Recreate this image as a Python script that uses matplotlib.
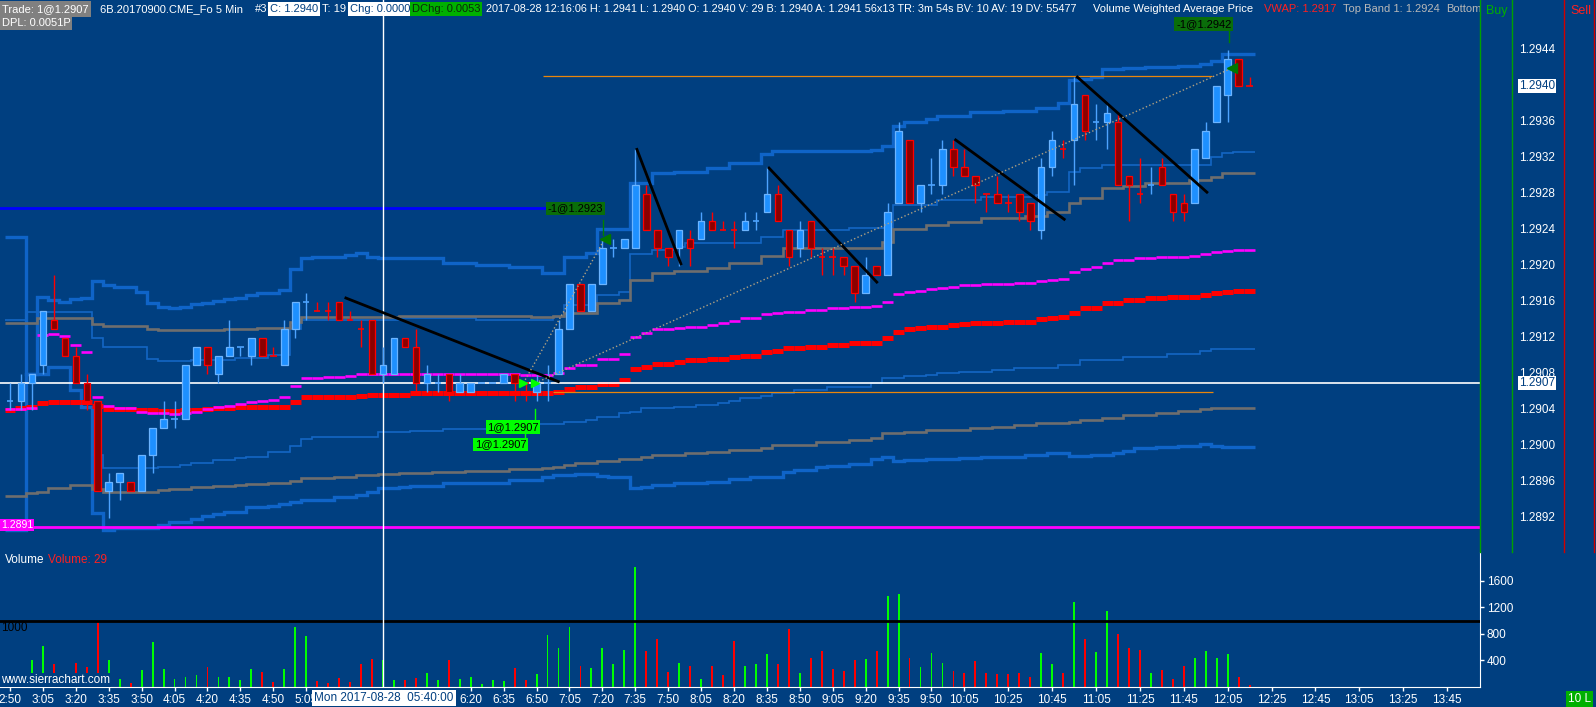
import matplotlib.pyplot as plt
import numpy as np
from matplotlib.lines import Line2D
from matplotlib.patches import Rectangle

plt.rcParams['font.family'] = ['Liberation Sans', 'DejaVu Sans']

# 6B 5 minute bars, bar 0 = 2:50 ... bar 113 = 12:15
opens = [1.2905, 1.2905, 1.2907, 1.2909, 1.2914, 1.2912, 1.2910, 1.2907, 1.2905, 1.2895,
         1.2896, 1.2896, 1.2895, 1.2899, 1.2902, 1.2903, 1.2903, 1.2909, 1.2911, 1.2908,
         1.2910, 1.2911, 1.2910, 1.2912, 1.2910, 1.2909, 1.2913, 1.2916, 1.2915, 1.2915,
         1.2916, 1.2914, 1.2913, 1.2914, 1.2908, 1.2908, 1.2912, 1.2911, 1.2907, 1.2907,
         1.2908, 1.2906, 1.2906, 1.2907, 1.2907, 1.2907, 1.2908, 1.2907, 1.2906, 1.2907,
         1.2908, 1.2913, 1.2918, 1.2915, 1.2918, 1.2922, 1.2922, 1.2922, 1.2928, 1.2924,
         1.2922, 1.2922, 1.2923, 1.2923, 1.2925, 1.2924, 1.2924, 1.2924, 1.2925, 1.2926,
         1.2928, 1.2924, 1.2922, 1.2925, 1.2921, 1.2921, 1.2921, 1.2920, 1.2917, 1.2920,
         1.2919, 1.2927, 1.2934, 1.2927, 1.2929, 1.2929, 1.2933, 1.2931, 1.2930, 1.2928,
         1.2928, 1.2927, 1.2928, 1.2927, 1.2924, 1.2931, 1.2933, 1.2934, 1.2939, 1.2936,
         1.2936, 1.2936, 1.2930, 1.2928, 1.2929, 1.2931, 1.2928, 1.2927, 1.2927, 1.2932,
         1.2936, 1.2939, 1.2943, 1.2940]
highs = [1.2907, 1.2908, 1.2908, 1.2915, 1.2919, 1.2912, 1.2911, 1.2908, 1.2905, 1.2897,
         1.2897, 1.2896, 1.2899, 1.2902, 1.2905, 1.2905, 1.2909, 1.2911, 1.2911, 1.2910,
         1.2914, 1.2911, 1.2912, 1.2912, 1.2911, 1.2914, 1.2916, 1.2917, 1.2916, 1.2916,
         1.2916, 1.2915, 1.2914, 1.2914, 1.2911, 1.2912, 1.2912, 1.2913, 1.2909, 1.2908,
         1.2908, 1.2908, 1.2907, 1.2907, 1.2907, 1.2908, 1.2908, 1.2907, 1.2908, 1.2909,
         1.2914, 1.2918, 1.2918, 1.2918, 1.2923, 1.2923, 1.2923, 1.2933, 1.2929, 1.2924,
         1.2922, 1.2924, 1.2924, 1.2926, 1.2926, 1.2925, 1.2925, 1.2926, 1.2926, 1.2931,
         1.2929, 1.2924, 1.2925, 1.2925, 1.2922, 1.2922, 1.2921, 1.2920, 1.2921, 1.2920,
         1.2927, 1.2936, 1.2934, 1.2929, 1.2932, 1.2934, 1.2934, 1.2933, 1.2930, 1.2928,
         1.2930, 1.2928, 1.2928, 1.2927, 1.2932, 1.2935, 1.2934, 1.2941, 1.2939, 1.2938,
         1.2938, 1.2937, 1.2930, 1.2932, 1.2931, 1.2932, 1.2928, 1.2928, 1.2933, 1.2936,
         1.2940, 1.2944, 1.2943, 1.2941]
lows = [1.2904, 1.2904, 1.2904, 1.2908, 1.2913, 1.2910, 1.2907, 1.2904, 1.2895, 1.2892,
        1.2894, 1.2895, 1.2895, 1.2897, 1.2902, 1.2902, 1.2903, 1.2909, 1.2908, 1.2907,
        1.2910, 1.2910, 1.2909, 1.2910, 1.2910, 1.2909, 1.2912, 1.2914, 1.2915, 1.2914,
        1.2914, 1.2914, 1.2911, 1.2908, 1.2907, 1.2908, 1.2911, 1.2906, 1.2906, 1.2906,
        1.2905, 1.2906, 1.2906, 1.2907, 1.2907, 1.2907, 1.2905, 1.2905, 1.2905, 1.2905,
        1.2908, 1.2913, 1.2915, 1.2915, 1.2918, 1.2921, 1.2922, 1.2922, 1.2924, 1.2921,
        1.2920, 1.2920, 1.2920, 1.2923, 1.2924, 1.2924, 1.2922, 1.2924, 1.2924, 1.2926,
        1.2925, 1.2920, 1.2921, 1.2921, 1.2919, 1.2919, 1.2919, 1.2916, 1.2917, 1.2919,
        1.2919, 1.2927, 1.2927, 1.2926, 1.2928, 1.2928, 1.2930, 1.2930, 1.2927, 1.2926,
        1.2927, 1.2926, 1.2925, 1.2924, 1.2923, 1.2930, 1.2932, 1.2929, 1.2934, 1.2934,
        1.2933, 1.2929, 1.2925, 1.2927, 1.2928, 1.2929, 1.2925, 1.2925, 1.2927, 1.2932,
        1.2936, 1.2936, 1.2940, 1.2940]
closes = [1.2905, 1.2907, 1.2908, 1.2915, 1.2913, 1.2910, 1.2907, 1.2905, 1.2895, 1.2896,
          1.2897, 1.2895, 1.2899, 1.2902, 1.2903, 1.2903, 1.2909, 1.2911, 1.2909, 1.2910,
          1.2911, 1.2911, 1.2912, 1.2910, 1.2910, 1.2913, 1.2916, 1.2916, 1.2915, 1.2915,
          1.2914, 1.2914, 1.2913, 1.2908, 1.2909, 1.2912, 1.2911, 1.2907, 1.2908, 1.2907,
          1.2906, 1.2907, 1.2907, 1.2907, 1.2907, 1.2908, 1.2907, 1.2907, 1.2907, 1.2907,
          1.2913, 1.2918, 1.2915, 1.2918, 1.2922, 1.2922, 1.2923, 1.2929, 1.2924, 1.2922,
          1.2921, 1.2924, 1.2922, 1.2925, 1.2924, 1.2924, 1.2924, 1.2925, 1.2925, 1.2928,
          1.2925, 1.2921, 1.2924, 1.2922, 1.2921, 1.2921, 1.2920, 1.2917, 1.2919, 1.2919,
          1.2926, 1.2935, 1.2927, 1.2929, 1.2929, 1.2933, 1.2931, 1.2930, 1.2929, 1.2928,
          1.2927, 1.2927, 1.2926, 1.2925, 1.2931, 1.2934, 1.2933, 1.2938, 1.2935, 1.2936,
          1.2937, 1.2929, 1.2929, 1.2928, 1.2929, 1.2929, 1.2926, 1.2926, 1.2933, 1.2935,
          1.2940, 1.2943, 1.2940, 1.2940]
# u = up bar, d = down bar (also gives the colour of the dojis and volume bars)
bar_dir = ("uuuudddddu" "uduuuuuudu" "uuudduuudd" "dddduudduu" "duuuuudduu"
           "uuduuuuudd" "dududdduuu" "ddudddddud" "uuduuudddd" "dddduududu"
           "uddduddduu" "uudd")
volume = [90, 130, 407, 618, 347, 120, 357, 297, 1000, 407,
          116, 55, 256, 683, 271, 116, 156, 176, 297, 156,
          156, 106, 271, 221, 80, 271, 905, 774, 85, 55,
          136, 80, 347, 422, 407, 106, 106, 136, 216, 106,
          407, 121, 156, 45, 106, 90, 287, 106, 196, 784,
          593, 905, 317, 287, 593, 347, 558, 1810, 543, 724,
          221, 357, 317, 121, 317, 176, 694, 317, 347, 498,
          347, 875, 216, 437, 543, 271, 241, 407, 422, 543,
          1373, 1403, 437, 302, 513, 362, 241, 216, 392, 216,
          196, 196, 216, 156, 513, 347, 216, 1282, 724, 528,
          1146, 799, 593, 558, 216, 256, 121, 317, 437, 543,
          437, 498, 156, 29]

# studies, one value per bar
vwap = [1.29040, 1.29042, 1.29043, 1.29048, 1.29049, 1.29049, 1.29049, 1.29049, 1.29044, 1.29041,
        1.29041, 1.29041, 1.29040, 1.29040, 1.29039, 1.29039, 1.29040, 1.29040, 1.29041, 1.29042,
        1.29042, 1.29043, 1.29043, 1.29043, 1.29043, 1.29043, 1.29049, 1.29054, 1.29054, 1.29054,
        1.29054, 1.29054, 1.29056, 1.29057, 1.29057, 1.29057, 1.29057, 1.29059, 1.29059, 1.29059,
        1.29059, 1.29059, 1.29059, 1.29059, 1.29059, 1.29059, 1.29059, 1.29059, 1.29059, 1.29059,
        1.29060, 1.29063, 1.29066, 1.29066, 1.29069, 1.29069, 1.29073, 1.29086, 1.29088, 1.29091,
        1.29091, 1.29093, 1.29096, 1.29096, 1.29097, 1.29097, 1.29099, 1.29100, 1.29100, 1.29104,
        1.29106, 1.29109, 1.29109, 1.29110, 1.29110, 1.29112, 1.29112, 1.29114, 1.29114, 1.29114,
        1.29120, 1.29127, 1.29130, 1.29131, 1.29132, 1.29132, 1.29134, 1.29136, 1.29137, 1.29137,
        1.29137, 1.29138, 1.29138, 1.29138, 1.29141, 1.29142, 1.29143, 1.29148, 1.29153, 1.29153,
        1.29159, 1.29159, 1.29162, 1.29162, 1.29164, 1.29164, 1.29166, 1.29166, 1.29166, 1.29168,
        1.29170, 1.29171, 1.29172, 1.29172]
vwap_2 = ([1.29041, 1.29041, 1.29042, 1.29123, 1.29124, 1.29122, 1.29112, 1.29104, 1.29054, 1.29044,
           1.29042, 1.29042, 1.29038, 1.29037, 1.29037, 1.29036, 1.29037, 1.29038, 1.29041, 1.29043,
           1.29044, 1.29047, 1.29049, 1.29050, 1.29051, 1.29054, 1.29067, 1.29076, 1.29076, 1.29077,
           1.29077, 1.29078] + [1.29080] * 15 + [1.29079] * 3 +
          [1.29081, 1.29087, 1.29090, 1.29090, 1.29097, 1.29097, 1.29102, 1.29121, 1.29126, 1.29130,
           1.29130, 1.29131, 1.29132, 1.29132, 1.29134, 1.29137, 1.29139, 1.29142, 1.29142, 1.29147,
           1.29148, 1.29149, 1.29149, 1.29151, 1.29151, 1.29153, 1.29153, 1.29154, 1.29154, 1.29156,
           1.29160, 1.29169, 1.29171, 1.29172, 1.29174, 1.29176, 1.29177, 1.29179, 1.29179, 1.29180,
           1.29180, 1.29180, 1.29181, 1.29181, 1.29183, 1.29184, 1.29186, 1.29193, 1.29197, 1.29199,
           1.29203, 1.29207, 1.29207, 1.29209, 1.29209, 1.29210, 1.29210, 1.29210, 1.29211, 1.29213,
           1.29216, 1.29217, 1.29218, 1.29218])
top_outer = ([1.29232, 1.29232, 1.29080, 1.29166, 1.29162, 1.29160, 1.29163, 1.29164, 1.29183, 1.29179,
              1.29177, 1.29177, 1.29171, 1.29159, 1.29154, 1.29153, 1.29154, 1.29158, 1.29159, 1.29161,
              1.29163, 1.29164, 1.29168, 1.29170, 1.29170, 1.29173, 1.29197, 1.29209, 1.29210, 1.29210,
              1.29210, 1.29212, 1.29214, 1.29210, 1.29209, 1.29209, 1.29209, 1.29209, 1.29209, 1.29209,
              1.29203, 1.29203, 1.29203, 1.29201, 1.29201, 1.29201, 1.29199, 1.29199, 1.29199, 1.29192,
              1.29192, 1.29210, 1.29210, 1.29214, 1.29241, 1.29241, 1.29241, 1.29292, 1.29292, 1.29303,
              1.29303, 1.29304, 1.29304, 1.29304, 1.29309, 1.29309, 1.29314, 1.29314, 1.29314, 1.29324]
             + [1.29328] * 9 +
             [1.29329, 1.29333, 1.29356, 1.29360, 1.29360, 1.29363, 1.29367, 1.29367, 1.29367, 1.29371,
              1.29371, 1.29371, 1.29372, 1.29372, 1.29372, 1.29376, 1.29376, 1.29381, 1.29407, 1.29408,
              1.29410, 1.29419, 1.29419, 1.29420, 1.29420, 1.29421, 1.29421, 1.29421, 1.29422, 1.29422,
              1.29424, 1.29428, 1.29436, 1.29436, 1.29436])
top_inner = ([1.29140, 1.29140, 1.29149, 1.29149, 1.29149, 1.29149, 1.29149, 1.29149, 1.29120, 1.29110,
              1.29110, 1.29110, 1.29110, 1.29097, 1.29094, 1.29094, 1.29094, 1.29096, 1.29096, 1.29096,
              1.29096, 1.29098, 1.29098, 1.29098, 1.29101, 1.29101, 1.29130]
             + [1.29140] * 9 + [1.29142] * 7 + [1.29140] * 7 +
             [1.29143, 1.29157, 1.29157, 1.29157, 1.29168, 1.29168, 1.29171, 1.29213, 1.29213, 1.29218,
              1.29218, 1.29221] + [1.29226] * 7 + [1.29232, 1.29232] + [1.29240] * 6 + [1.29242] * 4
             + [1.29268] * 4 + [1.29273] * 4 + [1.29277] * 5 +
             [1.29279, 1.29282, 1.29282, 1.29304, 1.29309, 1.29309] + [1.29312] * 10 +
             [1.29321, 1.29326, 1.29327, 1.29327])
top_gray = ([1.29137, 1.29137, 1.29137, 1.29142, 1.29142, 1.29142, 1.29142, 1.29142, 1.29136, 1.29133,
             1.29133, 1.29133, 1.29133, 1.29130] + [1.29129] * 6 +
            [1.29130, 1.29130, 1.29130, 1.29131, 1.29131, 1.29131, 1.29138] + [1.29143] * 9 +
            [1.29144] * 12 + [1.29143, 1.29143] +
            [1.29144, 1.29148, 1.29148, 1.29148, 1.29159, 1.29159, 1.29162, 1.29184, 1.29184, 1.29192,
             1.29192, 1.29194, 1.29194, 1.29194, 1.29198, 1.29198, 1.29203, 1.29203, 1.29203, 1.29211,
             1.29211] + [1.29220] * 9 +
            [1.29227, 1.29241, 1.29241, 1.29241, 1.29246, 1.29246, 1.29249, 1.29249, 1.29249, 1.29253,
             1.29253, 1.29253, 1.29253, 1.29256, 1.29256, 1.29260, 1.29260, 1.29270, 1.29276, 1.29276,
             1.29287, 1.29287, 1.29289, 1.29289, 1.29292, 1.29292, 1.29292, 1.29292, 1.29296, 1.29296,
             1.29299, 1.29303, 1.29303, 1.29303])
low_inner = ([np.nan, np.nan, 1.29080, 1.29080, 1.29088, 1.29088, 1.29062, 1.29043, 1.28990] +
             [1.28976] * 5 + [1.28977, 1.28977, 1.28979, 1.28981, 1.28981, 1.28984,
              1.28984, 1.28987, 1.28988, 1.28988, 1.28993, 1.28993, 1.29000, 1.29008] +
             [1.29010] * 6 + [1.29016] * 3 + [1.29017] * 3 + [1.29019] * 4 + [1.29021] * 4 +
             [1.29024] * 3 + [1.29027, 1.29027, 1.29029, 1.29032, 1.29032, 1.29037, 1.29038,
              1.29042, 1.29042, 1.29042, 1.29043, 1.29043, 1.29046, 1.29046, 1.29048, 1.29050,
              1.29053, 1.29053, 1.29056, 1.29059, 1.29059, 1.29062, 1.29062, 1.29062] +
             [1.29066] * 4 + [1.29070, 1.29076, 1.29076, 1.29078, 1.29078, 1.29079, 1.29081,
              1.29081, 1.29082, 1.29082, 1.29082, 1.29084, 1.29084] + [1.29087] * 4 +
             [1.29090, 1.29090] + [1.29096] * 4 + [1.29099] * 4 + [1.29102] * 3 + [1.29106] +
             [1.29108] * 4)
low_gray = ([1.28944, 1.28944, 1.28948, 1.28949, 1.28953, 1.28953, 1.28957, 1.28957, 1.28952] +
            [1.28949] * 5 + [1.28951, 1.28952, 1.28952, 1.28954, 1.28954, 1.28956,
             1.28956, 1.28957, 1.28958, 1.28958, 1.28959, 1.28959, 1.28961, 1.28964, 1.28964, 1.28964,
             1.28966, 1.28966, 1.28968, 1.28968, 1.28969, 1.28969, 1.28970, 1.28970, 1.28970, 1.28971,
             1.28971, 1.28971] + [1.28972] * 4 + [1.28974] * 3 +
            [1.28976, 1.28977, 1.28979, 1.28981, 1.28981, 1.28983, 1.28983, 1.28986, 1.28986, 1.28988,
             1.28990, 1.28990, 1.28990, 1.28992, 1.28992, 1.28993, 1.28993, 1.28996, 1.28996, 1.28996,
             1.28998] + [1.29001] * 4 + [1.29004] * 3 +
            [1.29007, 1.29007, 1.29009, 1.29014, 1.29014, 1.29016, 1.29016] + [1.29018] * 4 +
            [1.29020, 1.29020, 1.29021, 1.29021, 1.29023, 1.29023, 1.29026, 1.29026, 1.29026, 1.29027,
             1.29029, 1.29029, 1.29031, 1.29031, 1.29034, 1.29034, 1.29034, 1.29037, 1.29037, 1.29039,
             1.29039, 1.29041] + [1.29042] * 4)
low_outer = ([1.28907, 1.28907, 1.29080, 1.29080, 1.29088, 1.29088, 1.29062, 1.29043, 1.28926, 1.28907]
             + [1.28909] * 4 +
             [1.28912, 1.28916, 1.28916, 1.28919, 1.28922, 1.28924,
              1.28927, 1.28927, 1.28932, 1.28932, 1.28933, 1.28936, 1.28938, 1.28940, 1.28940, 1.28940,
              1.28943, 1.28943, 1.28946, 1.28949, 1.28953, 1.28953, 1.28954, 1.28956, 1.28956, 1.28956]
             + [1.28959] * 6 + [1.28962] * 3 +
             [1.28966, 1.28968, 1.28968, 1.28969, 1.28969, 1.28967, 1.28966, 1.28966, 1.28953, 1.28954,
              1.28957, 1.28957, 1.28959, 1.28959, 1.28959, 1.28960, 1.28960, 1.28963, 1.28963, 1.28966,
              1.28966, 1.28966, 1.28971, 1.28973, 1.28973, 1.28977, 1.28978, 1.28978, 1.28980, 1.28980,
              1.28986, 1.28988, 1.28983, 1.28984, 1.28984, 1.28986, 1.28986, 1.28986, 1.28987, 1.28987,
              1.28988, 1.28988, 1.28988, 1.28988, 1.28990, 1.28990, 1.28992, 1.28992, 1.28989, 1.28989,
              1.28990, 1.28990, 1.28992, 1.28994, 1.28998, 1.28998, 1.28999, 1.28999, 1.29000, 1.29000,
              1.29002, 1.29000, 1.28999, 1.28999, 1.28999])

# drawn trend lines: (bar, price) -> (bar, price)
trend_lines = [((30.5, 1.29165), (50.1, 1.29071)),
               ((57.1, 1.29331), (61.2, 1.29201)),
               ((69.1, 1.29310), (79.1, 1.29181)),
               ((86.1, 1.29341), (96.2, 1.29251)),
               ((97.2, 1.29411), (109.2, 1.29281))]
entry_bars = [46.8, 47.9]
entry_price = 1.2907
exit_bars = [54.2, 111.4]
exit_prices = [1.2923, 1.2942]
target_price = 1.29264
prior_high = 1.29411
prior_low = 1.29060
low_line = 1.2891
last_price = 1.2940

# 5:20 .. 6:05 sit under the cursor date box and are not shown
tick_bars = [0, 3, 6, 9, 12, 15, 18, 21, 24, 27, 42, 45, 48, 51, 54, 57, 60,
             63, 66, 69, 72, 75, 78, 81, 84, 87, 91, 95, 99, 103, 107, 111, 115, 119, 123, 127, 131]
tick_labels = ['2:50', '3:05', '3:20', '3:35', '3:50', '4:05', '4:20', '4:35', '4:50', '5:05',
               '6:20', '6:35', '6:50', '7:05', '7:20', '7:35',
               '7:50', '8:05', '8:20', '8:35', '8:50', '9:05', '9:20', '9:35', '9:50', '10:05',
               '10:25', '10:45', '11:05', '11:25', '11:45', '12:05', '12:25', '12:45', '13:05',
               '13:25', '13:45']
price_ticks = [1.2892, 1.2896, 1.2900, 1.2904, 1.2908, 1.2912, 1.2916, 1.2920,
               1.2924, 1.2928, 1.2932, 1.2936, 1.2944]
vol_ticks = [400, 800, 1200, 1600]
cursor_bar = 34

navy = '#003f80'
W, H = 1596, 707


def fx(px):
    return px / W


def fy(py):
    return 1 - py / H


fig = plt.figure(figsize=(W / 100, H / 100), dpi=100, facecolor=navy)
ax = fig.add_axes([0, fy(552), fx(1480), 552 / H], facecolor=navy)
axv = fig.add_axes([0, fy(687), fx(1480), 135 / H], facecolor=navy)

n = len(opens)
x = np.arange(n)
edges = np.arange(n + 1) - 0.5

# bands
ax.stairs(top_outer, edges, baseline=None, color='#0f64c8', lw=2.4, zorder=1)
ax.stairs(low_outer, edges, baseline=None, color='#0f64c8', lw=2.4, zorder=1)
ax.stairs(top_inner, edges, baseline=None, color='#1466c4', lw=1.2, zorder=1)
ax.stairs(low_inner[2:], edges[2:], baseline=None, color='#1466c4', lw=1.2, zorder=1)
ax.stairs(top_gray, edges, baseline=None, color='#6e6e6e', lw=1.9, zorder=1)
ax.stairs(low_gray, edges, baseline=None, color='#6e6e6e', lw=1.9, zorder=1)

# vwap dashes
ax.hlines(vwap, x - 0.5, x + 0.5, color='#ff0000', lw=3.6, capstyle='butt', zorder=2)
ax.hlines(vwap_2, x - 0.5, x + 0.5, color='#ff00ff', lw=1.9, capstyle='butt', zorder=2)

ax.axhline(entry_price, color='white', lw=1.2, zorder=2)
ax.axhline(low_line, color='#ff00ff', lw=2, zorder=2)
ax.hlines(target_price, -1, 49.0, color='#0000ff', lw=2, zorder=2)
ax.hlines(prior_high, 48.6, 109.6, color='#e8860c', lw=0.9, zorder=2)
ax.hlines(prior_low, 49.5, 109.7, color='#e8860c', lw=0.9, zorder=2)

# candles
for i in x:
    up = bar_dir[i] == 'u'
    wick = '#4da3ff' if up else '#ff0000'
    ax.vlines(i, lows[i], highs[i], color=wick, lw=1.0, zorder=4)
    o, c = opens[i], closes[i]
    if o == c:
        ax.hlines(o, i - 0.3, i + 0.3, color=wick, lw=1.2, zorder=5)
    else:
        ax.add_patch(Rectangle((i - 0.3, min(o, c)), 0.6, abs(c - o),
                               facecolor='#1e90ff' if up else '#8b0000',
                               edgecolor='#6cb4ff' if up else '#ff0000',
                               lw=0.9, zorder=5))

for (x0, y0), (x1, y1) in trend_lines:
    ax.plot([x0, x1], [y0, y1], color='black', lw=2, solid_capstyle='butt', zorder=6)

# trades
ax.plot([entry_bars[0], exit_bars[0]], [entry_price, exit_prices[0]],
        ls=':', color='#b0a080', lw=1, zorder=6)
ax.plot([entry_bars[1], exit_bars[1]], [entry_price, exit_prices[1]],
        ls=':', color='#b0a080', lw=1, zorder=6)
ax.plot(entry_bars, [entry_price] * 2, ls='none', marker='>', color='#00ff00', ms=6, zorder=7)
ax.plot(exit_bars, exit_prices, ls='none', marker='<', color='#007800', ms=7, zorder=7)

lab = dict(fontsize=8, color='black', va='center', ha='left', zorder=8)
ax.text(49.0, target_price, '-1@1.2923',
        bbox=dict(boxstyle='square,pad=0.15', fc='#0a6e0a', ec='none'), **lab)
ax.plot([54.1, 54.1], [1.29251, 1.29234], color='#008000', lw=1, zorder=7)
ax.text(43.5, 1.29021, '1@1.2907',
        bbox=dict(boxstyle='square,pad=0.15', fc='#00ff00', ec='none'), **lab)
ax.plot([47.9, 47.9], [1.29041, 1.29028], color='#00ff00', lw=1, zorder=7)
ax.text(42.4, 1.29002, '1@1.2907',
        bbox=dict(boxstyle='square,pad=0.15', fc='#00ff00', ec='none'), **lab)
ax.plot([46.9, 46.9], [1.29014, 1.29009], color='#00ff00', lw=1, zorder=7)
ax.text(106.3, 1.29469, '-1@1.2942',
        bbox=dict(boxstyle='square,pad=0.15', fc='#0a6e0a', ec='none'), **lab)
ax.plot([111.1, 111.1], [1.29462, 1.29449], color='#008000', lw=1, zorder=7)

ax.axvline(cursor_bar, color='white', lw=1, zorder=3)
ax.set_xlim(-0.912, 134.0)
ax.set_ylim(1.288822, 1.294956)
ax.set_xticks([])
ax.set_yticks([])
for s in ax.spines.values():
    s.set_visible(False)

# price scale
ytr = ax.get_yaxis_transform()
for p in price_ticks:
    ax.text(1.0385, p, f'{p:.4f}', transform=ytr, ha='center', va='center',
            color='white', fontsize=8.5, clip_on=False)
for p in [last_price, entry_price]:
    ax.text(1.0385, p, f'{p:.4f}', transform=ytr, ha='center', va='center',
            color=navy, fontsize=8.5, clip_on=False, zorder=9,
            bbox=dict(boxstyle='square,pad=0.1', fc='white', ec='none'))

# volume pane
axv.bar(x, volume, width=0.17, color=['#00ff00' if d == 'u' else '#ff0000' for d in bar_dir],
        zorder=2)
axv.axhline(1000, color='black', lw=2, zorder=3)
axv.axvline(cursor_bar, color='white', lw=1, zorder=3)
axv.set_xlim(-0.912, 134.0)
axv.set_ylim(0, 2036)
axv.yaxis.tick_right()
axv.set_yticks(vol_ticks, [str(v) for v in vol_ticks])
axv.set_xticks(tick_bars, tick_labels)
axv.tick_params(colors='white', labelsize=8.5, length=3, width=1, pad=2)
for side in ['top', 'left']:
    axv.spines[side].set_visible(False)
for side in ['bottom', 'right']:
    axv.spines[side].set_color('white')

# column lines at the right
for px, col in [(1480, '#00a000'), (1512, '#00a000'), (1564, '#d00000'), (1594, '#d00000')]:
    fig.add_artist(Line2D([fx(px), fx(px)], [fy(0), fy(552)], color=col, lw=1))

# header
hd = dict(fontsize=8, va='center', ha='left')
fig.text(fx(2), fy(9), 'Trade: 1@1.2907', color='white',
         bbox=dict(boxstyle='square,pad=0.25', fc='#808080', ec='none'), **hd)
fig.text(fx(100), fy(9), '6B.20170900.CME_Fo 5 Min', color='white', **hd)
fig.text(fx(255), fy(9), '#3', color='white', **hd)
fig.text(fx(270), fy(9), 'C: 1.2940', color=navy,
         bbox=dict(boxstyle='square,pad=0.15', fc='white', ec='none'), **hd)
fig.text(fx(322), fy(9), 'T: 19', color='white', **hd)
fig.text(fx(350), fy(9), 'Chg: 0.0000', color=navy,
         bbox=dict(boxstyle='square,pad=0.15', fc='white', ec='none'), **hd)
fig.text(fx(412), fy(9), 'DChg: 0.0053', color='#0a2a0a',
         bbox=dict(boxstyle='square,pad=0.15', fc='#00b000', ec='none'), **hd)
fig.text(fx(486), fy(9), '2017-08-28 12:16:06 H: 1.2941 L: 1.2940 O: 1.2940 V: 29 B: 1.2940 '
         'A: 1.2941 56x13 TR: 3m 54s BV: 10 AV: 19 DV: 55477', color='white',
         fontsize=7.8, va='center', ha='left')
fig.text(fx(1093), fy(9), 'Volume Weighted Average Price', color='white', **hd)
fig.text(fx(1264), fy(9), 'VWAP: 1.2917', color='#ff2020', **hd)
fig.text(fx(1343), fy(9), 'Top Band 1: 1.2924', color='#b8b8b8', **hd)
ax.text(1446 / 1480, 1 - 9 / 552, 'Bottom', transform=ax.transAxes,
        color='#b8b8b8', clip_on=True, zorder=9, **hd)
fig.text(fx(2), fy(23.5), 'DPL: 0.0051P', color='white',
         bbox=dict(boxstyle='square,pad=0.15', fc='#808080', ec='none'), **hd)
fig.text(fx(1486), fy(11), 'Buy', color='#00b000', fontsize=9, va='center', ha='left')
fig.text(fx(1570), fy(11), 'Sell', color='#ff2020', fontsize=9, va='center', ha='left')

fig.text(fx(1), fy(525), '1.2891', color='white', fontsize=7.5, va='center', ha='left',
         bbox=dict(boxstyle='square,pad=0.1', fc='#ff00ff', ec='none'))
fig.text(fx(5), fy(560), 'Volume', color='white', fontsize=8.5, va='center', ha='left')
fig.text(fx(48), fy(560), 'Volume: 29', color='#ff2020', fontsize=8.5, va='center', ha='left')
fig.text(fx(1), fy(628), '1000', color='black', fontsize=8.5, va='center', ha='left')
fig.text(fx(1), fy(680), 'www.sierrachart.com', color='white', zorder=5, fontsize=8.5,
         va='center', ha='left', bbox=dict(boxstyle='square,pad=0.1', fc=navy, ec='none'))
fig.text(fx(314), fy(698), 'Mon 2017-08-28  05:40:00', color=navy, zorder=5, fontsize=8.5,
         va='center', ha='left', bbox=dict(boxstyle='square,pad=0.2', fc='white', ec='none'))
fig.text(fx(1568), fy(699), '10 L', color='white', zorder=5, fontsize=8.5,
         va='center', ha='left', bbox=dict(boxstyle='square,pad=0.2', fc='#00b000', ec='none'))

fig.savefig('out.png', dpi=100, facecolor=navy)
